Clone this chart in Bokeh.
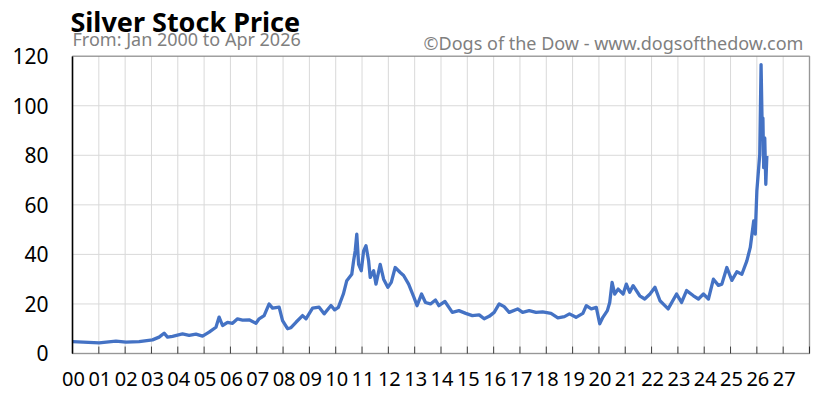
from bokeh.plotting import figure
from bokeh.models import FixedTicker, Label, ColumnDataSource, BoxAnnotation
from bokeh.core.properties import value
from bokeh.embed import file_html
from bokeh.resources import INLINE

# positions along the year axis (as drawn) and silver price in USD
year_pos = [0.00, 1.01, 1.65, 2.03, 2.53, 3.04, 3.29, 3.48, 3.61, 3.80, 4.18, 4.43, 4.69,
            4.94, 5.19, 5.45, 5.57, 5.70, 5.89, 6.08, 6.27, 6.46, 6.71, 6.97, 7.09, 7.28,
            7.47, 7.60, 7.85, 7.98, 8.17, 8.30, 8.49, 8.74, 8.87, 9.12, 9.37, 9.56, 9.82,
            9.96, 10.10, 10.29, 10.42, 10.61, 10.68, 10.74, 10.80, 10.87,
            10.97, 11.06, 11.15, 11.25, 11.31, 11.44, 11.53, 11.69, 11.82, 11.98, 12.11,
            12.26, 12.45, 12.58, 12.77, 12.97, 13.09, 13.26, 13.41, 13.60, 13.79, 13.92,
            14.15, 14.43, 14.68, 14.94, 15.19, 15.45, 15.64, 15.83, 16.02, 16.21, 16.40,
            16.59, 16.91, 17.10, 17.35, 17.61, 17.86, 18.18, 18.44, 18.69, 18.88, 19.13,
            19.39, 19.52, 19.71, 19.90, 20.03, 20.15, 20.32, 20.41, 20.50, 20.60, 20.73,
            20.92, 21.04, 21.17, 21.30, 21.55, 21.74, 21.94, 22.13, 22.32, 22.44, 22.63,
            22.95, 23.14, 23.33, 23.59, 23.78, 23.97, 24.16, 24.35, 24.54, 24.67, 24.86,
            25.05, 25.24, 25.43, 25.62, 25.75, 25.88, 25.94, 26.00, 26.07, 26.11, 26.16,
            26.20, 26.23, 26.26, 26.30, 26.34, 26.38]
price = [4.8, 4.3, 5.0, 4.6, 4.8, 5.5, 6.6, 8.2, 6.6, 6.9, 7.9, 7.3, 7.8,
         7.0, 8.6, 10.6, 14.7, 11.3, 12.6, 12.2, 14.0, 13.5, 13.6, 12.2, 14.0, 15.3,
         20.0, 18.3, 18.7, 13.3, 10.0, 10.4, 12.6, 15.3, 14.0, 18.3, 18.7, 16.0, 19.4,
         17.6, 18.6, 24.0, 29.4, 32.0, 37.4, 41.4, 48.2, 36.0,
         33.4, 41.4, 43.5, 37.4, 30.7, 33.4, 28.0, 36.0, 30.0, 26.7, 28.7,
         34.7, 32.7, 31.5, 28.0, 22.7, 19.3, 24.0, 20.6, 20.0, 21.6, 19.3,
         21.0, 16.6, 17.3, 16.2, 15.3, 15.6, 14.0, 15.0, 16.6, 20.0, 18.9,
         16.6, 18.0, 16.6, 17.3, 16.6, 16.8, 16.2, 14.4, 14.9, 16.0, 14.6,
         16.2, 19.3, 18.0, 18.6, 12.0, 14.6, 17.3, 20.6, 28.7, 24.0, 26.0,
         24.0, 28.0, 24.7, 27.4, 23.3, 22.0, 24.0, 26.7, 21.3, 20.0, 18.0,
         24.0, 20.6, 25.4, 23.3, 22.0, 24.0, 22.0, 30.0, 27.5, 28.0, 34.7,
         29.5, 33.0, 32.0, 37.4, 42.8, 53.5, 48.2, 65.6, 75.0, 80.4, 116.6,
         92.4, 95.0, 75.0, 87.0, 68.3, 79.7]

year_ticks = list(range(29))
tick_labels = ["%02d" % i for i in range(28)]
y_ticks = [0, 20, 40, 60, 80, 100, 120]

title_text = "Silver Stock Price"
subtitle_text = "From: Jan 2000 to Apr 2026"
credit_text = "\u00a9Dogs of the Dow - www.dogsofthedow.com"

FONT = "Noto Sans"
Y_MAX = y_ticks[-1]
X_MAX = year_ticks[-1]
TICK_LEN = 2.8  # inner tick length in price units (about 7 px)

# frame fills the whole canvas; the plot box is drawn at 0..28 x 0..120 inside it
p = figure(width=817, height=394, output_backend="svg", toolbar_location=None,
           x_range=(-2.7356, 28.304), y_range=(-16.55, 142.48),
           min_border_left=0, min_border_right=0, min_border_top=0, min_border_bottom=0)

p.background_fill_color = "white"
p.border_fill_color = "white"
p.outline_line_color = None
p.xaxis.visible = False
p.xgrid.visible = False
p.ygrid.visible = False

# grid (lines limited to the plot box)
p.segment(x0=year_ticks, y0=[0] * len(year_ticks), x1=year_ticks,
          y1=[Y_MAX] * len(year_ticks), line_color="#d9d9d9", line_width=1)
p.segment(x0=[0] * len(y_ticks), y0=y_ticks, x1=[X_MAX] * len(y_ticks),
          y1=y_ticks, line_color="#d9d9d9", line_width=1)
# inner tick marks on the bottom axis
p.segment(x0=year_ticks, y0=[0] * len(year_ticks), x1=year_ticks,
          y1=[TICK_LEN] * len(year_ticks), line_color="#404040", line_width=1)

src = ColumnDataSource(dict(x=year_pos, y=price))
p.line("x", "y", source=src, line_color="#4472C4", line_width=3.3, line_join="round")

p.add_layout(BoxAnnotation(left=0, right=X_MAX, bottom=0, top=Y_MAX, fill_color=None,
                           line_color="black", line_width=1.5))

# x tick labels
label_src = ColumnDataSource(dict(x=year_ticks[:28], y=[0] * 28, t=tick_labels))
p.text(x="x", y="y", text="t", source=label_src, y_offset=26, x_offset=1,
       text_font=value(FONT), text_font_size="20px", text_color="black",
       text_align="center", text_baseline="middle")

# y axis
p.yaxis.fixed_location = 0
p.yaxis.bounds = (0, Y_MAX)
p.yaxis.ticker = FixedTicker(ticks=y_ticks)
p.yaxis.major_label_text_font = FONT
p.yaxis.major_label_text_font_size = "21px"
p.yaxis.major_label_text_color = "black"
p.yaxis.major_label_standoff = 24
p.yaxis.major_tick_in = 0
p.yaxis.major_tick_out = 0
p.yaxis.minor_tick_line_color = None
p.yaxis.axis_line_color = "black"
p.yaxis.axis_line_width = 1.5

p.add_layout(Label(x=-0.08, y=134.0, text=title_text, text_font=FONT,
                   text_font_size="27px", text_font_style="bold", text_color="black",
                   text_baseline="alphabetic", text_align="left"))
p.add_layout(Label(x=0.0, y=127.0, text=subtitle_text, text_font=FONT,
                   text_font_size="18px", text_color="#7f7f7f",
                   text_baseline="alphabetic", text_align="left"))
p.add_layout(Label(x=27.77, y=125.5, text=credit_text, text_font=FONT,
                   text_font_size="18px", text_color="#7f7f7f",
                   text_baseline="alphabetic", text_align="right"))

open("out.html", "w").write(file_html(p, INLINE))
